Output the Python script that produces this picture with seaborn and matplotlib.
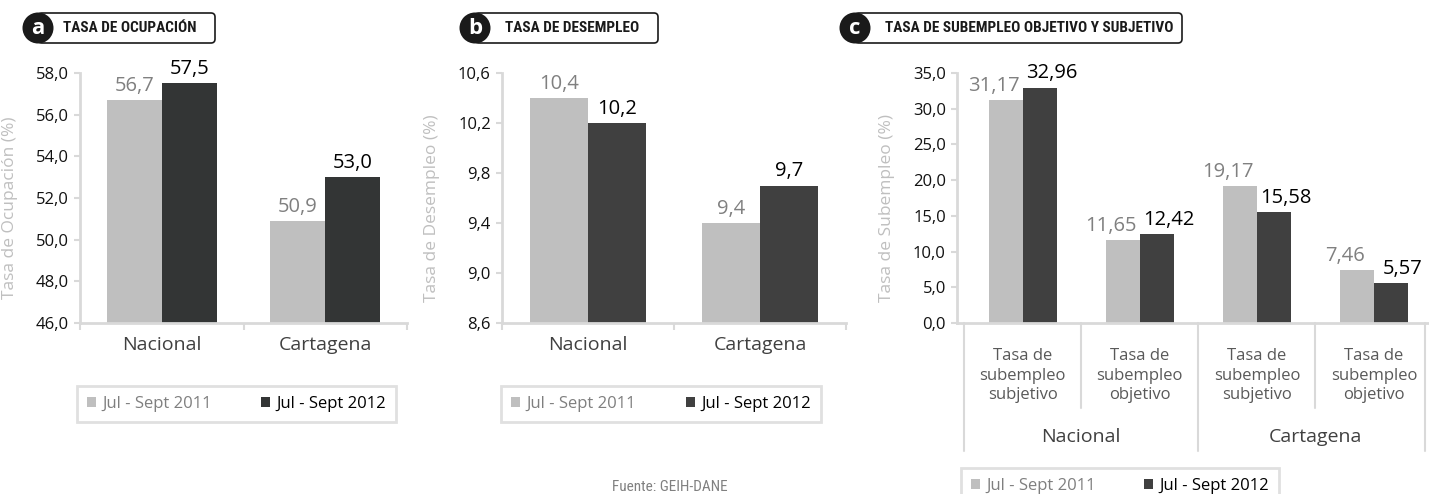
import numpy as np
import pandas as pd
import matplotlib
matplotlib.use('Agg')
import matplotlib.pyplot as plt
import matplotlib.transforms as mtransforms
from matplotlib import font_manager
from matplotlib.patches import Circle, FancyBboxPatch
from matplotlib.ticker import FuncFormatter, FixedLocator
import seaborn as sns

# datos
periodos = ['Jul - Sept 2011', 'Jul - Sept 2012']
ciudades = ['Nacional', 'Cartagena']

ocupacion_2011 = [56.7, 50.9]
ocupacion_2012 = [57.5, 53.0]

desempleo_2011 = [10.4, 9.4]
desempleo_2012 = [10.2, 9.7]

subempleo_cat = ['Nacional subjetivo', 'Nacional objetivo', 'Cartagena subjetivo', 'Cartagena objetivo']
subempleo_tipo = ['Tasa de\nsubempleo\nsubjetivo', 'Tasa de\nsubempleo\nobjetivo',
                  'Tasa de\nsubempleo\nsubjetivo', 'Tasa de\nsubempleo\nobjetivo']
subempleo_2011 = [31.17, 11.65, 19.17, 7.46]
subempleo_2012 = [32.96, 12.42, 15.58, 5.57]

CLARO = '#bfbfbf'
OSCURO_A = '#333535'
OSCURO = '#404040'
LINEA = '#d9d9d9'

sns.set_style('white')


def elegir(candidatas, defecto):
    nombres = {f.name for f in font_manager.fontManager.ttflist}
    for c in candidatas:
        if c in nombres:
            return c
    return defecto


cuerpo = elegir(['Open Sans', 'Lato', 'Noto Sans'], 'DejaVu Sans')
angosta = elegir(['Liberation Sans Narrow', 'DejaVu Sans Condensed', 'Roboto Condensed'], 'Roboto')
plt.rcParams['font.family'] = [cuerpo, 'DejaVu Sans']

W, H = 1429, 494
fig = plt.figure(figsize=(W / 100, H / 100), dpi=100)


def caja(x0, x1, y0, y1):
    return [x0 / W, 1 - y1 / H, (x1 - x0) / W, (y1 - y0) / H]


def tabla(cats, v1, v2):
    return pd.DataFrame({
        'cat': list(cats) * 2,
        'periodo': [periodos[0]] * len(cats) + [periodos[1]] * len(cats),
        'valor': list(v1) + list(v2),
    })


coma1 = FuncFormatter(lambda v, p: f'{v:.1f}'.replace('.', ','))


def panel(ax, df, oscuro, ancho, ylim, yticks, ylabel, decimales, lab_x, separar=0):
    sns.barplot(data=df, x='cat', y='valor', hue='periodo', palette=[CLARO, oscuro],
                width=ancho, saturation=1, edgecolor='none', linewidth=0, ax=ax)
    ax.get_legend().remove()
    ax.set_ylim(*ylim)
    ax.set_yticks(yticks)
    ax.yaxis.set_major_formatter(coma1)
    ax.set_xlabel('')
    ax.set_ylabel(ylabel, color=CLARO, fontsize=12.5)
    ax.yaxis.set_label_coords(lab_x, 0.46)
    for s in ['top', 'right']:
        ax.spines[s].set_visible(False)
    for s in ['left', 'bottom']:
        ax.spines[s].set_color(LINEA)
        ax.spines[s].set_linewidth(2)
    ax.tick_params(axis='y', length=4, width=1.5, color=LINEA, labelsize=12,
                   labelcolor='#111111', pad=4, left=True)
    ax.tick_params(axis='x', which='major', length=0, labelsize=14, labelcolor='#404040', pad=9)
    n = df['cat'].nunique()
    ax.xaxis.set_minor_locator(FixedLocator(np.arange(n + 1) - 0.5))
    ax.tick_params(axis='x', which='minor', length=5, width=1.5, color=LINEA, bottom=True)
    ax.set_xlim(-0.5, n - 0.5)
    colores = ['#808080', '#000000']
    for j, (cont, col) in enumerate(zip(ax.containers, colores)):
        etiquetas = [f'{v:.{decimales}f}'.replace('.', ',') for v in cont.datavalues]
        anns = ax.bar_label(cont, labels=etiquetas, padding=3, color=col, fontsize=14.5)
        for a in anns:
            a.xyann = ((2 * j - 1) * separar, 3)


def leyenda(ax, x0, x1, y0, y1):
    hs, ls = ax.get_legend_handles_labels()
    leg = ax.legend(hs, ls, loc='center', ncol=2, mode='expand',
                    bbox_to_anchor=(x0 / W, 1 - y1 / H, (x1 - x0) / W, (y1 - y0) / H),
                    bbox_transform=fig.transFigure, borderaxespad=0, fontsize=12,
                    handlelength=0.55, handleheight=0.55, handletextpad=0.4,
                    borderpad=0.6, frameon=True, fancybox=False)
    leg.get_frame().set_edgecolor(LINEA)
    leg.get_frame().set_linewidth(2)
    leg.get_texts()[0].set_color('#7f7f7f')
    leg.get_texts()[1].set_color('#000000')


def insignia(letra, cx, x1, titulo, tx):
    tr = fig.dpi_scale_trans
    cy = 28
    fig.add_artist(FancyBboxPatch((cx / 100, (H - 43) / 100), (x1 - cx) / 100, 30 / 100,
                                  boxstyle='round,pad=0,rounding_size=0.04',
                                  transform=tr, facecolor='white', edgecolor='#1a1a1a', lw=1.2))
    fig.add_artist(Circle((cx / 100, (H - cy) / 100), 15.5 / 100, transform=tr,
                          facecolor='#1a1a1a', edgecolor='none'))
    fig.text(cx / 100, (H - cy - 1) / 100, letra, transform=tr, ha='center', va='center',
             color='white', fontsize=16, fontweight='bold')
    fig.text(tx / 100, (H - cy) / 100, titulo, transform=tr, ha='left', va='center',
             color='#1a1a1a', fontsize=11, fontweight='bold', family=angosta,
             fontstretch='condensed')


# a. tasa de ocupacion
ax_a = fig.add_axes(caja(80, 407, 73, 323))
panel(ax_a, tabla(ciudades, ocupacion_2011, ocupacion_2012), OSCURO_A, 0.67,
      (46, 58), np.arange(46, 58.1, 2), 'Tasa de Ocupación (%)', 1, -0.19)
leyenda(ax_a, 77, 396, 383, 425)

# b. tasa de desempleo
ax_b = fig.add_axes(caja(502, 846, 73, 323))
panel(ax_b, tabla(ciudades, desempleo_2011, desempleo_2012), OSCURO, 0.68,
      (8.6, 10.6), np.arange(8.6, 10.61, 0.4), 'Tasa de Desempleo (%)', 1, -0.18)
leyenda(ax_b, 501, 821, 383, 425)

# c. subempleo
ax_c = fig.add_axes(caja(957, 1429, 73, 323))
panel(ax_c, tabla(subempleo_cat, subempleo_2011, subempleo_2012), OSCURO, 0.58,
      (0, 35), np.arange(0, 35.1, 5), 'Tasa de Subempleo (%)', 2, -0.131, separar=8.5)
ax_c.set_xlim(-0.56, 3.47)
ax_c.set_xticklabels([])
ax_c.tick_params(axis='x', which='minor', length=0)
mezcla = mtransforms.blended_transform_factory(ax_c.transData, ax_c.transAxes)
pos = np.asarray(ax_c.get_xticks(), dtype=float)
for p, t in zip(pos, subempleo_tipo):
    ax_c.text(p, -0.21, t, transform=mezcla, ha='center', va='center', fontsize=12,
              color='#595959', linespacing=1.3)
for i, ciudad in enumerate(ciudades):
    ax_c.text(pos[2 * i:2 * i + 2].mean(), -0.456, ciudad, transform=mezcla, ha='center',
              va='center', fontsize=14, color='#404040')
limite = ax_c.get_xlim()[1] - 0.03
for k in range(len(pos) + 1):
    b = min(k - 0.5, limite)
    fondo = -0.51 if k % 2 == 0 else -0.34
    ax_c.plot([b, b], [0, fondo], transform=mezcla, color=LINEA, lw=1.5, clip_on=False)
leyenda(ax_c, 961, 1279, 465, 507)

insignia('a', 38, 215, 'TASA DE OCUPACIÓN', 63)
insignia('b', 475, 658, 'TASA DE DESEMPLEO', 505)
insignia('c', 855, 1182, 'TASA DE SUBEMPLEO OBJETIVO Y SUBJETIVO', 885)

fig.text(670 / W, 1 - 487 / H, 'Fuente: GEIH-DANE', ha='center', va='center',
         fontsize=11, color='#808080', family=angosta, fontstretch='condensed')

fig.savefig('out.png', dpi=100)
